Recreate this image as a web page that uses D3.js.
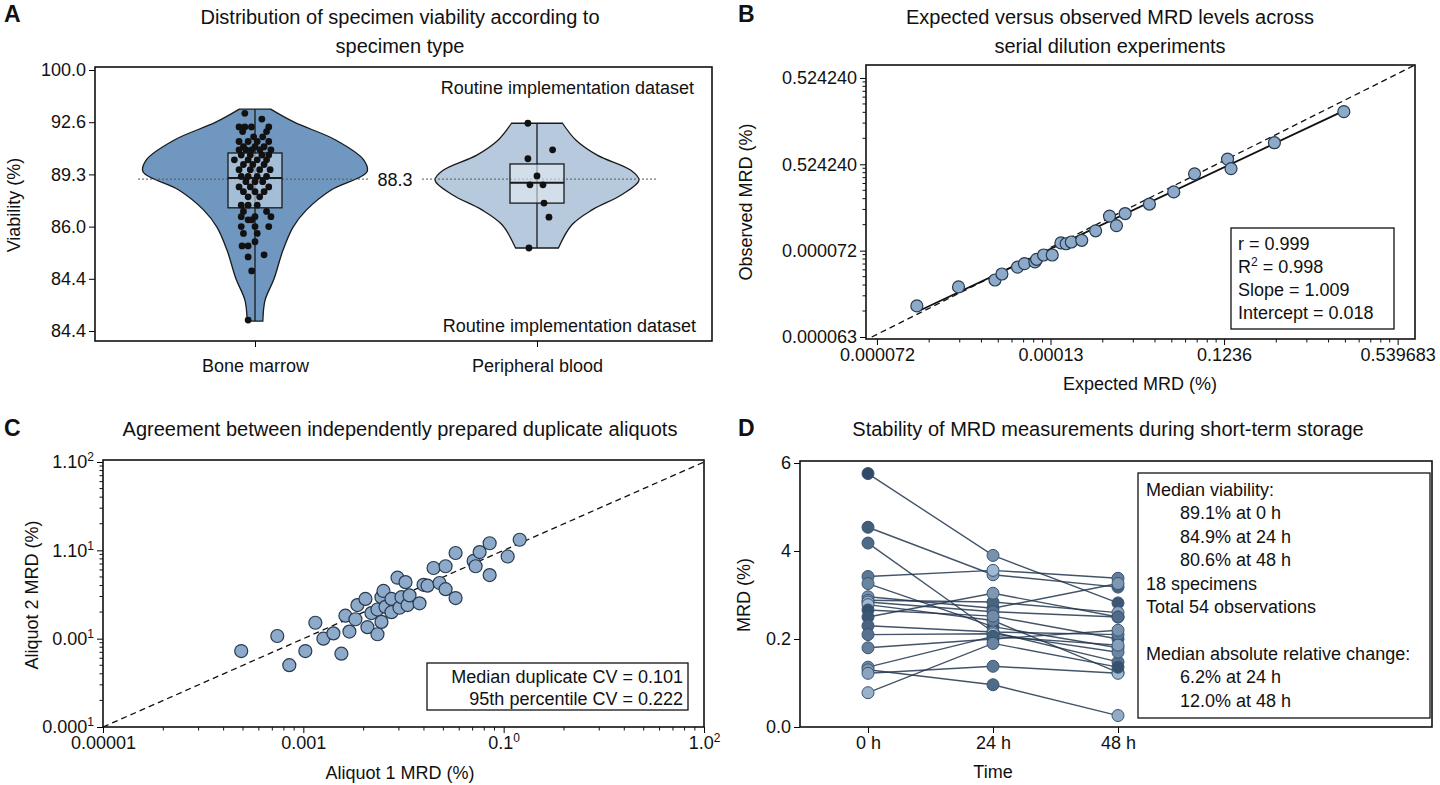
<!DOCTYPE html>
<html><head><meta charset="utf-8">
<script src="https://cdn.jsdelivr.net/npm/d3@7"></script>
<style>
body{margin:0;background:#fff}
text{font-family:"Liberation Sans Narrow","Liberation Sans",Arial,sans-serif;fill:#111}
.title{font-family:"Liberation Sans",Arial,sans-serif;font-size:20px}
.tick{font-size:18px}
.lab{font-family:"Liberation Sans",Arial,sans-serif;font-size:18px}
.letter{font-family:"Liberation Sans",Arial,sans-serif;font-size:23px;font-weight:bold}
</style></head><body>
<svg id="fig" width="1440" height="785"></svg>
<script>
// ---- data ----
// panel A (values in axis-tick units, ticks at 0..5)
var aTicks = ["84.4","84.4","86.0","89.3","92.6","100.0"];
var aCats = ["Bone marrow","Peripheral blood"];
var bmProfile = [[4.25,0.14],[4.0,0.35],[3.66,0.72],[3.28,0.97],[3.05,1.0],[2.7,0.68],[2.32,0.46],[1.99,0.34],[1.55,0.25],[1.0,0.17],[0.59,0.09],[0.19,0.07]];
var pbProfile = [[3.98,0.25],[3.66,0.38],[3.37,0.59],[3.08,0.92],[2.89,1.0],[2.61,0.83],[2.32,0.54],[2.03,0.34],[1.59,0.21]];
var bmBox = {lo:0.19,q1:2.36,med:2.93,q3:3.41,hi:4.25};
var pbBox = {lo:1.59,q1:2.45,med:2.84,q3:3.20,hi:3.98};
var refLine = 2.91;
var bmPoints = [[4.17,-0.37],[4.06,0.25],[3.91,-0.58],[3.91,-0.37],[3.91,-0.13],[3.91,0.5],[3.82,-0.45],[3.82,0.42],
 [3.72,-0.05],[3.72,0.28],[3.63,-0.58],[3.63,-0.25],[3.63,0.08],[3.63,0.5],[3.53,-0.42],[3.53,0],[3.53,0.33],
 [3.47,-0.58],[3.47,-0.33],[3.47,-0.12],[3.47,0.18],[3.47,0.58],[3.37,-0.5],[3.37,-0.17],[3.37,0.25],[3.37,0.5],
 [3.28,-0.75],[3.28,-0.25],[3.28,0.08],[3.28,0.42],[3.19,-0.42],[3.19,-0.08],[3.19,0.33],[3.09,-0.58],[3.09,-0.17],
 [3.09,0.17],[3.09,0.55],[2.96,-0.5],[2.96,-0.25],[2.96,0.08],[2.96,0.42],[2.86,-0.33],[2.86,0],[2.86,0.28],
 [2.76,-0.58],[2.76,-0.17],[2.76,0.5],[2.67,-0.42],[2.67,0],[2.67,0.33],[2.57,-0.25],[2.57,0.17],[2.41,-0.5],
 [2.41,-0.25],[2.41,0.08],[2.29,-0.42],[2.29,0.42],[2.19,-0.5],[2.19,0],[2.19,0.58],[2.13,-0.25],[2.13,-0.12],
 [2.0,-0.5],[2.0,0],[2.0,0.5],[1.87,-0.42],[1.87,0.08],[1.71,0],[1.63,-0.47],[1.63,-0.25],[1.46,0.33],[1.42,-0.25],
 [1.15,-0.12],[0.21,-0.25]];
var pbPoints = [[3.98,-0.35],[3.47,0.6],[3.30,-0.35],[2.97,0],[2.80,-0.27],[2.80,0.23],[2.45,0.27],[2.18,0.46],[1.59,-0.31]];

// panel B (log-decade units, ticks at 0..3)
var bXTicks = ["0.000072","0.00013","0.1236","0.539683"];
var bYTicks = ["0.000063","0.000072","0.524240","0.524240"];
var bExpected = [0.23,0.47,0.68,0.72,0.81,0.85,0.91,0.92,0.96,1.01,1.06,1.09,1.12,1.18,1.26,1.34,1.38,1.43,1.57,1.71,1.83,2.02,2.04,2.29,2.69];
var bObserved = [0.36,0.58,0.66,0.73,0.81,0.85,0.87,0.90,0.95,0.95,1.09,1.08,1.10,1.12,1.23,1.40,1.29,1.43,1.54,1.68,1.89,2.06,1.95,2.25,2.61];
var bFit = [[0.25,0.31],[2.68,2.61]];
var bStats = ["r = 0.999","R\u00b2 = 0.998","Slope = 1.009","Intercept = 0.018"];

// panel C
var cXTicks = [["0.00001",""],["0.001",""],["0.1","0"],["1.0","2"]];
var cYTicks = [["0.000","1"],["0.00","1"],["1.10","1"],["1.10","2"]];
var cAliquot1 = [0.69,0.87,0.93,1.01,1.06,1.10,1.15,1.19,1.21,1.23,1.26,1.27,1.31,1.32,1.34,1.37,1.37,1.39,1.39,1.40,1.41,1.44,1.44,1.47,1.48,1.49,1.51,1.52,1.53,1.58,1.60,1.62,1.65,1.68,1.71,1.71,1.76,1.76,1.85,1.86,1.88,1.93,1.93,2.02,2.08];
var cAliquot2 = [0.86,1.03,0.70,0.86,1.18,1.00,1.06,0.83,1.26,1.08,1.22,1.38,1.45,1.13,1.29,1.33,1.05,1.19,1.47,1.54,1.36,1.30,1.45,1.69,1.35,1.47,1.64,1.38,1.49,1.40,1.61,1.60,1.80,1.63,1.82,1.56,1.46,1.97,1.88,1.82,1.98,1.72,2.08,1.93,2.12];
var cStats = ["Median duplicate CV = 0.101","95th percentile CV = 0.222"];

// panel D
var dTimes = ["0 h","24 h","48 h"];
var dYTicks = ["0.0","0.2","4","6"];
var dSeries = [[2.88,1.95,1.41],[2.27,1.73,1.59],[2.09,1.08,0.74],[1.71,1.78,1.69],[1.63,1.14,0.90],[1.48,1.35,1.63],
 [1.44,1.42,1.30],[1.42,1.31,1.25],[1.39,1.21,0.62],[1.33,1.26,1.00],[1.25,1.52,1.25],[1.15,1.08,1.05],[1.05,1.06,0.85],
 [0.90,1.00,1.10],[0.68,1.03,0.93],[0.65,0.48,0.13],[0.61,0.69,0.61],[0.39,0.95,0.68]];
var dStats = [["Median viability:",0],["89.1% at 0 h",1],["84.9% at 24 h",1],["80.6% at 48 h",1],["18 specimens",0],
 ["Total 54 observations",0],["",0],["Median absolute relative change:",0],["6.2% at 24 h",1],["12.0% at 48 h",1]];

var svg = d3.select("#fig");

function frame(x0,x1,y0,y1){
  svg.append("rect").attr("x",x0).attr("y",y0).attr("width",x1-x0).attr("height",y1-y0)
    .attr("fill","none").attr("stroke","#111").attr("stroke-width",1.6);
}
function title(lines,x,y){
  lines.forEach(function(t,i){
    svg.append("text").attr("class","title").attr("x",x).attr("y",y+i*29).attr("text-anchor","middle").text(t);
  });
}
function letter(t,x,y){ svg.append("text").attr("class","letter").attr("x",x).attr("y",y).text(t); }
function yLabel(t,x,y){
  svg.append("text").attr("class","lab").attr("font-size",19).attr("transform","translate("+x+","+y+") rotate(-90)")
    .attr("text-anchor","middle").text(t);
}
function xLabel(t,x,y){ svg.append("text").attr("class","lab").attr("x",x).attr("y",y).attr("text-anchor","middle").text(t); }
function logMinor(g,scale,n,horiz,edge){
  for(var d=0; d<n; d++) for(var k=2;k<10;k++){
    var p = scale(d+Math.log10(k));
    if(horiz) g.append("line").attr("x1",p).attr("x2",p).attr("y1",edge).attr("y2",edge+3.5).attr("stroke","#111");
    else g.append("line").attr("y1",p).attr("y2",p).attr("x1",edge).attr("x2",edge-3.5).attr("stroke","#111");
  }
}
function supLabel(axisG, labels){
  axisG.selectAll(".tick text").each(function(d,i){
    var t = d3.select(this).text(labels[i][0]);
    if(labels[i][1]) t.append("tspan").attr("dy",-7).attr("font-size",12).text(labels[i][1]);
  });
}

// ===== Panel A =====
letter("A",4,22);
title(["Distribution of specimen viability according to","specimen type"],400,24);
var aY = d3.scaleLinear().domain([0,5]).range([331,70]);
var aX = d3.scalePoint().domain(aCats).range([255,537]);
var aG = svg.append("g");
var ya = aG.append("g").attr("transform","translate(95,0)").call(d3.axisLeft(aY).tickValues([0,1,2,3,4,5]).tickFormat(function(d){return aTicks[d];}).tickSize(6));
var xa = aG.append("g").attr("transform","translate(0,341)").call(d3.axisBottom(aX).tickSize(6));
[ya,xa].forEach(function(a){ a.select(".domain").remove(); a.selectAll("text").attr("class","tick").attr("fill","#111"); });
xa.selectAll("text").attr("class","lab").attr("dy","1.2em");
function violin(cat,profile,maxHalf,fill){
  var cx = aX(cat);
  aG.append("path").datum(profile)
    .attr("d",d3.area().curve(d3.curveCatmullRom).y(function(d){return aY(d[0]);})
      .x0(function(d){return cx-d[1]*maxHalf;}).x1(function(d){return cx+d[1]*maxHalf;}))
    .attr("fill",fill).attr("stroke","#1a1a1a").attr("stroke-width",1.3);
}
violin(aCats[0],bmProfile,112,"#6f97c0");
violin(aCats[1],pbProfile,102,"#b7c9dd");
// reference line
aG.append("line").attr("x1",138).attr("x2",368).attr("y1",aY(refLine)).attr("y2",aY(refLine)).attr("stroke","#555").attr("stroke-dasharray","2,2");
aG.append("line").attr("x1",422).attr("x2",658).attr("y1",aY(refLine)).attr("y2",aY(refLine)).attr("stroke","#555").attr("stroke-dasharray","2,2");
aG.append("text").attr("class","tick").attr("x",395).attr("y",aY(refLine)+7).attr("text-anchor","middle").attr("font-size",20).text("88.3");
function box(cat,b,fill){
  var cx = aX(cat), hw = 27;
  aG.append("line").attr("x1",cx).attr("x2",cx).attr("y1",aY(b.lo)).attr("y2",aY(b.hi)).attr("stroke","#1a1a1a").attr("stroke-width",1.3);
  aG.append("rect").attr("x",cx-hw).attr("width",2*hw).attr("y",aY(b.q3)).attr("height",aY(b.q1)-aY(b.q3))
    .attr("fill",fill).attr("fill-opacity",0.6).attr("stroke","#1a1a1a").attr("stroke-width",1.3);
  aG.append("line").attr("x1",cx-hw).attr("x2",cx+hw).attr("y1",aY(b.med)).attr("y2",aY(b.med)).attr("stroke","#1a1a1a").attr("stroke-width",2);
}
box(aCats[0],bmBox,"#c9d8e8");
box(aCats[1],pbBox,"#e4ecf4");
aG.selectAll(".bmp").data(bmPoints).enter().append("circle")
  .attr("cx",function(d){return aX(aCats[0])+d[1]*27.5;}).attr("cy",function(d){return aY(d[0]);}).attr("r",3.4).attr("fill","#111");
aG.selectAll(".pbp").data(pbPoints).enter().append("circle")
  .attr("cx",function(d){return aX(aCats[1])+d[1]*26;}).attr("cy",function(d){return aY(d[0]);}).attr("r",3.4).attr("fill","#111");
aG.append("text").attr("class","lab").attr("x",694).attr("y",94).attr("text-anchor","end").text("Routine implementation dataset");
aG.append("text").attr("class","lab").attr("x",696).attr("y",332).attr("text-anchor","end").text("Routine implementation dataset");
frame(95,712,67,341);
yLabel("Viability (%)",20,205);

// ===== Panel B =====
letter("B",738,22);
title(["Expected versus observed MRD levels across","serial dilution experiments"],1110,24);
var bX = d3.scaleLinear().domain([-0.063,3.1]).range([866,1415]);
var bY = d3.scaleLinear().domain([-0.023,3.15]).range([339,65]);
var bG = svg.append("g");
var xb = bG.append("g").attr("transform","translate(0,339)").call(d3.axisBottom(bX).tickValues([0,1,2,3]).tickFormat(function(d){return bXTicks[d];}).tickSize(6));
var yb = bG.append("g").attr("transform","translate(866,0)").call(d3.axisLeft(bY).tickValues([0,1,2,3]).tickFormat(function(d){return bYTicks[d];}).tickSize(6));
[xb,yb].forEach(function(a){ a.select(".domain").remove(); a.selectAll("text").attr("class","tick").attr("fill","#111"); });
logMinor(bG,bX,3,true,339); logMinor(bG,bY,3,false,866);
bG.append("line").attr("x1",bX(-0.03)).attr("y1",bY(0)).attr("x2",bX(3.1)).attr("y2",bY(3.15))
  .attr("stroke","#111").attr("stroke-width",1.3).attr("stroke-dasharray","6,4");
bG.append("line").attr("x1",bX(bFit[0][0])).attr("y1",bY(bFit[0][1])).attr("x2",bX(bFit[1][0])).attr("y2",bY(bFit[1][1]))
  .attr("stroke","#111").attr("stroke-width",1.8);
bG.selectAll(".bp").data(bExpected).enter().append("circle")
  .attr("cx",function(d){return bX(d);}).attr("cy",function(d,i){return bY(bObserved[i]);}).attr("r",6)
  .attr("fill","#8daacb").attr("stroke","#2a3a4d").attr("stroke-width",1.2);
bG.append("rect").attr("x",1231).attr("y",228).attr("width",163).attr("height",101).attr("fill","#fff").attr("stroke","#111").attr("stroke-width",1.3);
bStats.forEach(function(t,i){
  var tx = bG.append("text").attr("class","lab").attr("x",1238).attr("y",250+i*23);
  if(i==1){ tx.text("R"); tx.append("tspan").attr("dy",-7).attr("font-size",12).text("2"); tx.append("tspan").attr("dy",7).text(" = 0.998"); }
  else tx.text(t);
});
frame(866,1415,65,339);
yLabel("Observed MRD (%)",752,202);
xLabel("Expected MRD (%)",1140,390);

// ===== Panel C =====
letter("C",4,436);
title(["Agreement between independently prepared duplicate aliquots"],400,436);
var cX = d3.scaleLinear().domain([0,3]).range([103,704]);
var cY = d3.scaleLinear().domain([0,3]).range([727,462]);
var cG = svg.append("g");
var xc = cG.append("g").attr("transform","translate(0,727)").call(d3.axisBottom(cX).tickValues([0,1,2,3]).tickSize(6));
var yc = cG.append("g").attr("transform","translate(103,0)").call(d3.axisLeft(cY).tickValues([0,1,2,3]).tickSize(6));
[xc,yc].forEach(function(a){ a.select(".domain").remove(); a.selectAll("text").attr("class","tick").attr("fill","#111"); });
supLabel(xc,cXTicks); supLabel(yc,cYTicks);
logMinor(cG,cX,3,true,727); logMinor(cG,cY,3,false,103);
cG.append("line").attr("x1",cX(0)).attr("y1",cY(0)).attr("x2",cX(3)).attr("y2",cY(3))
  .attr("stroke","#111").attr("stroke-width",1.3).attr("stroke-dasharray","6,4");
cG.selectAll(".cp").data(cAliquot1).enter().append("circle")
  .attr("cx",function(d){return cX(d);}).attr("cy",function(d,i){return cY(cAliquot2[i]);}).attr("r",6.5)
  .attr("fill","#8daacb").attr("stroke","#2a3a4d").attr("stroke-width",1.2);
cG.append("rect").attr("x",427).attr("y",663).attr("width",261).attr("height",47).attr("fill","#fff").attr("stroke","#111").attr("stroke-width",1.3);
cStats.forEach(function(t,i){
  cG.append("text").attr("class","lab").attr("x",683).attr("y",683+i*22).attr("text-anchor","end").text(t);
});
frame(103,704,460,727);
yLabel("Aliquot 2 MRD (%)",38,595);
xLabel("Aliquot 1 MRD (%)",400,779);

// ===== Panel D =====
letter("D",738,436);
title(["Stability of MRD measurements during short-term storage"],1108,436);
var dX = d3.scalePoint().domain(dTimes).range([868,1118]);
var dY = d3.scaleLinear().domain([0,3]).range([727,463]);
var dG = svg.append("g");
var xd = dG.append("g").attr("transform","translate(0,727)").call(d3.axisBottom(dX).tickSize(6));
var yd = dG.append("g").attr("transform","translate(800,0)").call(d3.axisLeft(dY).tickValues([0,1,2,3]).tickFormat(function(d){return dYTicks[d];}).tickSize(6));
[xd,yd].forEach(function(a){ a.select(".domain").remove(); a.selectAll("text").attr("class","tick").attr("fill","#111"); });
xd.selectAll("text").attr("font-size",19);
var shade = d3.scaleLinear().domain([0,dSeries.length-1]).range(["#2f4a68","#9fb9d4"]);
var order = [0,3,5,7,9,11,13,15,17,1,2,4,6,8,10,12,14,16];
var line = d3.line().x(function(d,i){return dX(dTimes[i]);}).y(function(d){return dY(d);});
dSeries.forEach(function(s,i){
  dG.append("path").attr("d",line(s)).attr("fill","none").attr("stroke","#22364d").attr("stroke-opacity",0.85).attr("stroke-width",1.4);
});
dSeries.forEach(function(s,i){
  s.forEach(function(v,j){
    dG.append("circle").attr("cx",dX(dTimes[j])).attr("cy",dY(v)).attr("r",6)
      .attr("fill",shade(order[(i+j*5)%18])).attr("stroke","#3a5470").attr("stroke-width",1);
  });
});
dG.append("rect").attr("x",1138).attr("y",473).attr("width",292).attr("height",245).attr("fill","#fff").attr("stroke","#111").attr("stroke-width",1.3);
dStats.forEach(function(t,i){
  dG.append("text").attr("class","lab").attr("x",t[1]?1180:1146).attr("y",496+i*23.4).text(t[0]);
});
frame(800,1432,461,727);
yLabel("MRD (%)",750,595);
xLabel("Time",993,778);
</script>
</body></html>
